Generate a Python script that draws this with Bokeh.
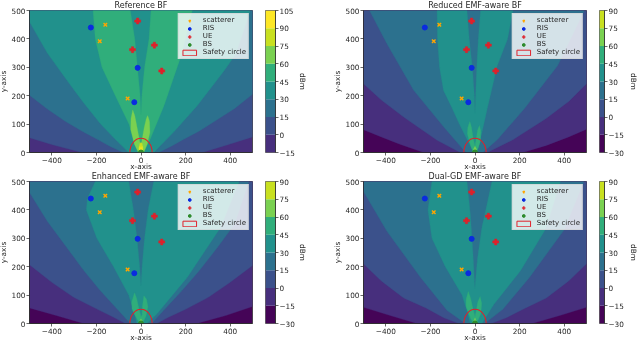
from bokeh.plotting import figure
from bokeh.layouts import row, column
from bokeh.models import Legend, LegendItem, FixedTicker, Range1d
from bokeh.embed import file_html
from bokeh.resources import INLINE

VIRIDIS = ["#450457", "#472f7d", "#3b518b", "#2c718e", "#21918c", "#30ae7b", "#7ad151", "#c8e020", "#fde725"]
LEVELS_A = [-15, 0, 15, 30, 45, 60, 75, 90, 105]
LEVELS_B = [-30, -15, 0, 15, 30, 45, 60, 75, 90]
XTICKS = [-400, -200, 0, 200, 400]
YTICKS = [0, 100, 200, 300, 400, 500]

SCATTERER_X = [-160, -185, -60]
SCATTERER_Y = [450, 392, 190]
RIS_X = [-225, -15, -30]
RIS_Y = [440, 298, 177]
UE_X = [-15, -38, 60, 93]
UE_Y = [463, 362, 378, 287]
BS_X = [0]
BS_Y = [0]
CIRCLE_R = 50

# Reference BF: region above each level
A_0 = [(-265,0),(-400,28),(-500,52),(-500,500),(500,500),(500,55),(400,30),(275,0)]
A_15 = [(-80,0),(-140,22),(-190,44),(-260,73),(-340,110),(-420,153),(-500,202),(-500,500),(500,500),(500,205),(420,155),(341,115),(260,75),(190,46),(140,24),(80,0)]
A_30 = [(-55,0),(-120,50),(-183,102),(-260,178),(-332,254),(-420,350),(-500,460),(-500,500),(490,500),(424,345),(370,285),(252,165),(150,75),(57,0)]
A_45 = [(-10,0),(-30,40),(-54,100),(-115,200),(-175,300),(-205,400),(-215,500),(-48,500),(-28,400),(-16,300),(-4,200),(0,135),(4,200),(16,300),(36,400),(45,500),(230,500),(205,420),(180,341),(103,165),(43,50),(12,0)]
A_60 = [(-12,0),(-30,30),(-46,80),(-45,120),(-37,150),(-28,130),(-18,90),(-6,40),(0,22),(6,50),(15,90),(24,120),(30,130),(38,110),(40,70),(28,30),(12,0)]
A_75 = [(-8,0),(-10,15),(-5,32),(0,35),(5,32),(9,15),(8,0)]
A_90 = [(-4,4),(-6,14),(-5,22),(-2,14),(0,10),(2,14),(5,22),(6,14),(4,4)]

# Reduced EMF-aware BF
B_m15 = [(-230,0),(-340,30),(-420,55),(-500,80),(-500,500),(500,500),(500,82),(420,55),(320,25),(215,0)]
B_0 = [(-66,0),(-170,43),(-320,125),(-420,185),(-500,242),(-500,500),(500,500),(500,242),(420,180),(319,120),(170,45),(55,0)]
B_15 = [(-40,0),(-50,8),(-140,90),(-275,219),(-395,383),(-473,500),(490,500),(371,306),(222,155),(100,45),(35,0)]
B_30 = [(-5,0),(-17,17),(-70,100),(-105,160),(-141,218),(-159,300),(-168,400),(-170,500),(-36,500),(-26,400),(-12,300),(-3,200),(0,137),(3,200),(8,300),(15,400),(25,500),(170,500),(146,400),(100,306),(55,155),(28,60),(8,0)]
B_45 = [(-8,0),(-22,30),(-34,65),(-32,90),(-23,109),(-16,90),(-8,50),(0,22),(6,50),(12,80),(20,95),(26,75),(24,40),(14,15),(6,0)]
B_60 = [(-5,3),(-7,12),(0,22),(7,12),(5,3)]

# Enhanced EMF-aware BF
C_m15 = [(-257,0),(-380,28),(-500,55),(-500,500),(500,500),(500,60),(380,28),(250,0)]
C_0 = [(-70,0),(-123,22),(-200,52),(-302,92),(-400,145),(-500,207),(-500,500),(500,500),(500,204),(400,145),(302,92),(200,50),(123,22),(70,0)]
C_15 = [(-48,0),(-100,45),(-183,116),(-260,190),(-332,267),(-420,360),(-500,461),(-500,500),(483,500),(420,350),(340,265),(260,185),(183,115),(100,45),(48,0)]
C_30 = [(-18,0),(-35,50),(-55,100),(-123,200),(-198,300),(-245,400),(-240,440),(-205,500),(-55,500),(-34,400),(-18,300),(-6,200),(0,133),(5,200),(16,300),(32,400),(57,500),(440,500),(356,337),(207,162),(72,34),(27,0)]
C_45 = [(-6,0),(-24,25),(-40,50),(-42,75),(-29,108),(-20,90),(-10,55),(0,25),(5,30),(6,58),(13,98),(25,85),(31,58),(22,25),(6,0)]
C_60 = [(-3,2),(-5,10),(0,17),(5,10),(3,2)]

# Dual-GD EMF-aware BF
D_m15 = [(-260,0),(-380,28),(-500,57),(-500,500),(500,500),(500,57),(380,28),(256,0)]
D_0 = [(-73,0),(-140,20),(-220,55),(-320,90),(-420,150),(-500,210),(-500,500),(500,500),(500,210),(420,150),(320,90),(220,52),(140,20),(73,0)]
D_15 = [(-43,0),(-125,46),(-245,163),(-395,325),(-500,465),(-500,500),(488,500),(400,330),(245,163),(125,50),(43,0)]
D_30 = [(-21,0),(-38,50),(-58,100),(-133,200),(-193,300),(-211,400),(-193,500),(-36,500),(-21,385),(-9,244),(-1,122),(12,233),(31,338),(54,420),(76,500),(383,500),(316,332),(204,186),(84,67),(31,0)]
D_45 = [(-8,0),(-24,25),(-40,60),(-40,85),(-30,113),(-20,90),(-10,55),(0,25),(6,45),(12,75),(23,95),(30,70),(26,35),(14,12),(6,0)]
D_60 = [(-3,2),(-5,10),(0,20),(5,10),(3,2)]

TXT = "#262626"
FONT = "DejaVu Sans"
TOP = 13
BOTTOM = 21


def style_axis(ax, standoff):
    ax.major_label_text_font = FONT
    ax.major_label_text_font_size = "7.3px"
    ax.major_label_text_color = TXT
    ax.major_label_text_line_height = 1
    ax.axis_label_text_font = FONT
    ax.axis_label_text_font_size = "7.3px"
    ax.axis_label_text_font_style = "normal"
    ax.axis_label_text_color = TXT
    ax.axis_label_text_line_height = 1
    ax.axis_label_standoff = standoff
    ax.major_tick_out = 3
    ax.major_tick_in = 0
    ax.minor_tick_line_color = None
    ax.major_tick_line_color = TXT
    ax.major_tick_line_width = 0.7
    ax.axis_line_color = TXT
    ax.axis_line_width = 0.7
    ax.major_label_standoff = 1


def minus(v):
    return str(v).replace("-", "\u2212")


def panel(title, regions, base, left, right, margin=(0, 0, 0, 0)):
    p = figure(width=left + 223 + right, height=TOP + 142 + BOTTOM, margin=margin,
               x_range=Range1d(-500, 500), y_range=Range1d(0, 500),
               toolbar_location=None, output_backend="svg",
               min_border_left=left, min_border_right=right,
               min_border_top=TOP, min_border_bottom=BOTTOM,
               background_fill_color=base, border_fill_color=None)
    p.grid.visible = False
    p.outline_line_color = TXT
    p.outline_line_width = 0.7
    for pts, col in regions:
        p.patch([q[0] for q in pts], [q[1] for q in pts], fill_color=col, line_color=col, line_width=0.3)
    r_s = p.scatter(SCATTERER_X, SCATTERER_Y, marker="x", size=5, line_color="orange", line_width=1.4)
    r_r = p.scatter(RIS_X, RIS_Y, marker="circle", size=5, fill_color="#0a2be0", line_color="#0a2be0")
    r_u = p.scatter(UE_X, UE_Y, marker="plus", size=6, fill_color="#e0202a", line_color="#e0202a", line_width=0.5)
    r_b = p.scatter(BS_X, BS_Y, marker="circle", size=5, fill_color="#2e8b2e", line_color="#2e8b2e")
    p.ellipse(x=[0], y=[0], width=[2 * CIRCLE_R], height=[2 * CIRCLE_R], fill_color=None,
              line_color="#e0202a", line_width=1.1)
    r_c = p.quad(left=[-CIRCLE_R], right=[CIRCLE_R], top=[-CIRCLE_R], bottom=[-2 * CIRCLE_R],
                 fill_color=None, line_color="#e0202a", line_width=1)
    lg = Legend(items=[LegendItem(label="scatterer", renderers=[r_s]), LegendItem(label="RIS", renderers=[r_r]),
                       LegendItem(label="UE", renderers=[r_u]), LegendItem(label="BS", renderers=[r_b]),
                       LegendItem(label="Safety circle", renderers=[r_c])],
                location="top_right", margin=3, padding=2, spacing=0,
                label_text_font=FONT, label_text_font_size="7px", label_text_color=TXT,
                label_height=8, glyph_height=7, glyph_width=17, label_standoff=5,
                background_fill_color="white", background_fill_alpha=0.8,
                border_line_color="#cccccc", border_line_width=0.7)
    p.add_layout(lg)
    p.title.text = title
    p.title.text_font = FONT
    p.title.text_font_size = "8px"
    p.title.text_font_style = "normal"
    p.title.text_color = TXT
    p.title.text_line_height = 1
    p.title.align = "center"
    p.title.standoff = 2
    p.title.offset = 0
    p.xaxis.ticker = FixedTicker(ticks=XTICKS)
    p.xaxis.major_label_overrides = {v: minus(v) for v in XTICKS}
    p.yaxis.ticker = FixedTicker(ticks=YTICKS)
    p.xaxis.axis_label = "x-axis"
    p.yaxis.axis_label = "y-axis"
    style_axis(p.xaxis[0], -4)
    style_axis(p.yaxis[0], 1)
    return p


def colorbar(levels, cols, width, standoff):
    right = width - 10
    c = figure(width=width, height=TOP + 142 + BOTTOM, x_range=Range1d(0, 1),
               y_range=Range1d(levels[0], levels[-1]), y_axis_location="right",
               toolbar_location=None, output_backend="svg",
               min_border_left=0, min_border_right=right, min_border_top=TOP, min_border_bottom=BOTTOM,
               border_fill_color=None)
    c.grid.visible = False
    c.xaxis.visible = False
    c.outline_line_color = TXT
    c.outline_line_width = 0.7
    c.quad(left=0, right=1, bottom=levels[:-1], top=levels[1:], fill_color=cols, line_color=None)
    c.yaxis.ticker = FixedTicker(ticks=levels)
    c.yaxis.major_label_overrides = {v: minus(v) for v in levels}
    c.yaxis.axis_label = "dBm"
    style_axis(c.yaxis[0], standoff)
    return c


p1 = panel("Reference BF",
           [(A_0, VIRIDIS[2]), (A_15, VIRIDIS[3]), (A_30, VIRIDIS[4]), (A_45, VIRIDIS[5]),
            (A_60, VIRIDIS[6]), (A_75, VIRIDIS[7]), (A_90, VIRIDIS[8])], VIRIDIS[1], 35, 13, (0, 0, 0, -6))
p2 = panel("Reduced EMF-aware BF",
           [(B_m15, VIRIDIS[1]), (B_0, VIRIDIS[2]), (B_15, VIRIDIS[3]), (B_30, VIRIDIS[4]),
            (B_45, VIRIDIS[5]), (B_60, VIRIDIS[6])], VIRIDIS[0], 43, 13)
p3 = panel("Enhanced EMF-aware BF",
           [(C_m15, VIRIDIS[1]), (C_0, VIRIDIS[2]), (C_15, VIRIDIS[3]), (C_30, VIRIDIS[4]),
            (C_45, VIRIDIS[5]), (C_60, VIRIDIS[6])], VIRIDIS[0], 35, 13, (0, 0, 0, -6))
p4 = panel("Dual-GD EMF-aware BF",
           [(D_m15, VIRIDIS[1]), (D_0, VIRIDIS[2]), (D_15, VIRIDIS[3]), (D_30, VIRIDIS[4]),
            (D_45, VIRIDIS[5]), (D_60, VIRIDIS[6])], VIRIDIS[0], 43, 13)

c1 = colorbar(LEVELS_A, VIRIDIS[1:], 55, 0)
c2 = colorbar(LEVELS_B, VIRIDIS[:8], 41, 2)
c3 = colorbar(LEVELS_B, VIRIDIS[:8], 55, 0)
c4 = colorbar(LEVELS_B, VIRIDIS[:8], 41, 2)

page = column(row(p1, c1, p2, c2, margin=(-3, 0, 0, 0)), row(p3, c3, p4, c4, margin=(-5, 0, 0, 0)), spacing=0,
              margin=(0, 0, 0, 0), height=341, width=640, styles={"filter": "blur(0.4px)"})
open("out.html", "w").write(file_html(page, INLINE))
